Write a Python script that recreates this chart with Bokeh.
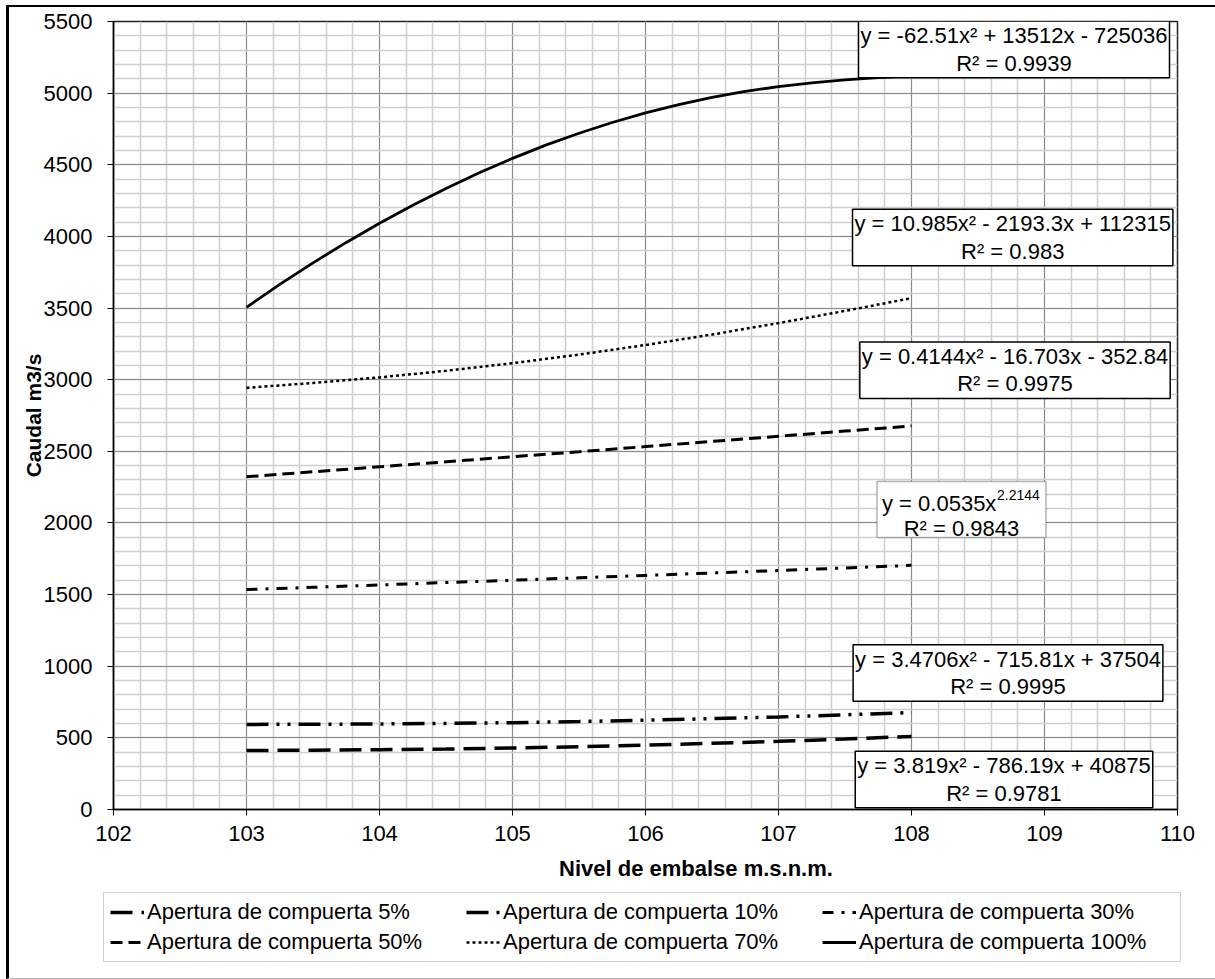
from bokeh.plotting import figure
from bokeh.models import (Legend, LegendItem, Label, BoxAnnotation, SingleIntervalTicker,
                          Range1d, Title)
from bokeh.layouts import column
from bokeh.embed import file_html
from bokeh.resources import INLINE

# ---------------- data ----------------
nivel = [103.0, 103.5, 104.0, 104.5, 105.0, 105.5, 106.0, 106.5, 107.0, 107.5, 108.0]
q_5 = [412, 414, 417, 422, 429, 438, 449, 462, 476, 492, 510]
q_10 = [594, 595, 597, 601, 606, 614, 623, 634, 646, 661, 677]
q_30 = [1535, 1551, 1567, 1584, 1600, 1617, 1634, 1651, 1668, 1686, 1704]
q_50 = [2322, 2357, 2392, 2427, 2462, 2497, 2533, 2569, 2605, 2641, 2677]
q_70 = [2943, 2977, 3016, 3062, 3115, 3175, 3242, 3315, 3395, 3480, 3569]
nivel_100 = [103.0, 103.25, 103.5, 103.75, 104.0, 104.25, 104.5, 104.75, 105.0, 105.25,
             105.5, 105.75, 106.0, 106.25, 106.5, 106.75, 107.0, 107.25, 107.5, 107.75, 108.0]
q_100 = [3505, 3665, 3815, 3958, 4092, 4218, 4335, 4444, 4545, 4637, 4720,
         4795, 4862, 4920, 4970, 5012, 5046, 5072, 5092, 5108, 5120]

series_labels = ["Apertura de compuerta 5%", "Apertura de compuerta 10%",
                 "Apertura de compuerta 30%", "Apertura de compuerta 50%",
                 "Apertura de compuerta 70%", "Apertura de compuerta 100%"]

eq_text = ["y = 3.819x² - 786.19x + 40875\nR² = 0.9781",
           "y = 3.4706x² - 715.81x + 37504\nR² = 0.9995",
           None,
           "y = 0.4144x² - 16.703x - 352.84\nR² = 0.9975",
           "y = 10.985x² - 2193.3x + 112315\nR² = 0.983",
           "y = -62.51x² + 13512x - 725036\nR² = 0.9939"]
pow_base = "y = 0.0535x"
pow_exp = "2.2144"
pow_r2 = "R² = 0.9843"

x_title = "Nivel de embalse m.s.n.m."
y_title = "Caudal m3/s"

# ---------------- layout helpers ----------------
X0, X1 = 102, 110
Y0, Y1 = 0, 5500
FL, FT, FW, FH = 114.5, 21.0, 1064, 788   # frame position on page (px)
PAGE_L, PAGE_T = 9, 7                      # where the figure starts on the page
MB_BOTTOM = 80

def px2x(px):
    return X0 + (px - FL) * (X1 - X0) / FW

def py2y(py):
    return Y0 + (FT + FH - py) * (Y1 - Y0) / FH

FONT = "Liberation Sans"
FIG_W = 1206

p = figure(frame_width=FW, frame_height=FH,
           x_range=Range1d(X0, X1), y_range=Range1d(Y0, Y1),
           output_backend="svg", toolbar_location=None,
           min_border_left=104, min_border_right=36,
           min_border_top=14, min_border_bottom=MB_BOTTOM,
           background_fill_color="white", border_fill_color="white")

p.outline_line_color = "#222222"
p.outline_line_width = 1.5

p.xaxis.ticker = SingleIntervalTicker(interval=1, num_minor_ticks=5)
p.yaxis.ticker = SingleIntervalTicker(interval=500, num_minor_ticks=5)
for ax in (p.xaxis[0], p.yaxis[0]):
    ax.axis_line_color = "black"
    ax.axis_line_width = 1.5
    ax.major_tick_line_color = "black"
    ax.major_tick_line_width = 1
    ax.major_tick_in = 0
    ax.major_tick_out = 6
    ax.minor_tick_in = 0
    ax.minor_tick_out = 0
    ax.major_label_text_font = FONT
    ax.major_label_text_font_size = "22px"
    ax.major_label_text_color = "black"
p.xaxis.major_label_standoff = 10
p.yaxis.major_label_standoff = 15

p.yaxis.axis_label = y_title
p.yaxis.axis_label_standoff = -4
p.yaxis.axis_label_text_font = FONT
p.yaxis.axis_label_text_font_size = "21px"
p.yaxis.axis_label_text_font_style = "bold"
p.yaxis.axis_label_text_color = "black"

# Excel places the x title right of centre -> left-aligned title with an offset
p.add_layout(Title(text=x_title, align="left", offset=560 - FL,
                   text_font=FONT, text_font_size="22px", text_font_style="bold",
                   text_color="black", standoff=20), "below")

for g in (p.xgrid[0], p.ygrid[0]):
    g.grid_line_color = "#8a8a8a"
    g.grid_line_width = 1
    g.minor_grid_line_color = "#cfcfcf"
    g.minor_grid_line_width = 1.5

styles = [
    dict(line_width=3.5, line_dash="22 9"),
    dict(line_width=3.5, line_dash="22 8 3 8 3 8"),
    dict(line_width=3, line_dash="11 8 3 8"),
    dict(line_width=3, line_dash="12 6"),
    dict(line_width=2.5, line_dash="3 3"),
    dict(line_width=2.8, line_dash="solid"),
]
xs = [nivel, nivel, nivel, nivel, nivel, nivel_100]
data = [q_5, q_10, q_30, q_50, q_70, q_100]
for xv, ys, st in zip(xs, data, styles):
    p.line(xv, ys, line_color="black", **st)

# ---------------- trendline equation boxes ----------------
boxes = {
    5: (1015.0, 49.0),
    4: (1013.7, 237.0),
    3: (1016.0, 369.7),
    1: (1009.0, 672.5),
    0: (1005.0, 779.0),
}
for idx, (cx, cy) in boxes.items():
    p.add_layout(Label(x=px2x(cx), y=py2y(cy), text=eq_text[idx],
                       text_align="center", text_baseline="middle",
                       text_font=FONT, text_font_size="22px", text_color="black",
                       text_line_height=1.1,
                       border_line_color="black", border_line_width=1.5,
                       background_fill_color="white", background_fill_alpha=1,
                       padding=2))

# power-law box (30%) with a true superscript exponent
p.add_layout(BoxAnnotation(left=px2x(878), right=px2x(1047),
                           top=py2y(481), bottom=py2y(537),
                           fill_color="white", fill_alpha=1,
                           line_color="black", line_width=1.5))
p.add_layout(Label(x=px2x(883), y=py2y(503), text=pow_base,
                   text_align="left", text_baseline="alphabetic",
                   text_font=FONT, text_font_size="22px", text_color="black"))
p.add_layout(Label(x=px2x(883 + 115), y=py2y(494), text=pow_exp,
                   text_align="left", text_baseline="alphabetic",
                   text_font=FONT, text_font_size="14px", text_color="black"))
p.add_layout(Label(x=px2x(962.5), y=py2y(528), text=pow_r2,
                   text_align="center", text_baseline="alphabetic",
                   text_font=FONT, text_font_size="22px", text_color="black"))

P_BOTTOM = PAGE_T + 14 + FH + MB_BOTTOM   # page y where the main figure ends
LEG_H_FIG = 977 - P_BOTTOM

# ---------------- legend strip (separate figure so nothing is clipped) -------
pl = figure(width=FIG_W, height=LEG_H_FIG, x_range=Range1d(0, 1), y_range=Range1d(0, 1),
            x_axis_type=None, y_axis_type=None, output_backend="svg",
            toolbar_location=None, min_border=0,
            background_fill_color="white", border_fill_color="white")
pl.frame_align = False
pl.outline_line_color = None
pl.grid.visible = False
items = []
for lab, xv, ys, st in zip(series_labels, xs, data, styles):
    r = pl.line(xv, ys, line_color="black", **st)   # outside the strip's range
    items.append(LegendItem(label=lab, renderers=[r]))

LEG_L, LEG_B = 103, 961
legend = Legend(items=items, orientation="horizontal", ncols=3,
                location=(LEG_L - PAGE_L, 977 - LEG_B),
                label_text_font=FONT, label_text_font_size="22px",
                label_text_color="black",
                glyph_width=34, glyph_height=20, label_standoff=3,
                label_width=315, label_height=25, spacing=4, padding=6,
                margin=0,
                border_line_color="#a6a6a6", border_line_width=1.2,
                background_fill_color="white", background_fill_alpha=1)
pl.add_layout(legend)

layout = column(p, pl, margin=(5, 0, 0, 6), spacing=0,
                styles={"border-left": "3px solid black",
                        "border-top": "2px solid black",
                        "border-bottom": "1px solid #bbbbbb"})

open("out.html", "w").write(file_html(layout, INLINE))
